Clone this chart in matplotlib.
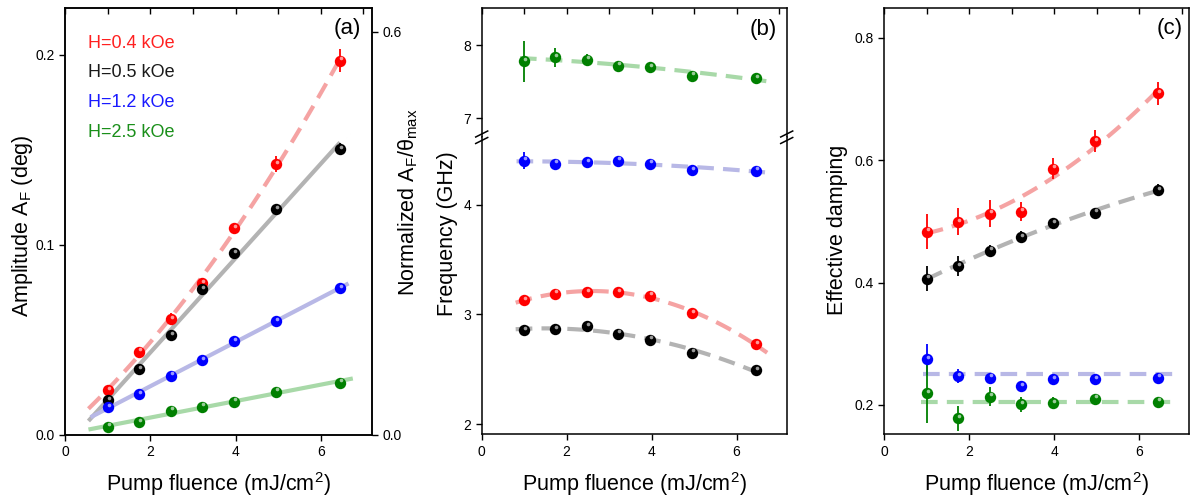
import numpy as np
import matplotlib
matplotlib.use('Agg')
import matplotlib.pyplot as plt
from matplotlib import transforms
from matplotlib.lines import Line2D
from matplotlib.colors import to_rgb
from matplotlib.ticker import MultipleLocator

plt.rcParams['font.family'] = ['Liberation Sans', 'DejaVu Sans']
plt.rcParams['mathtext.fontset'] = 'custom'
plt.rcParams['mathtext.rm'] = 'Liberation Sans'
plt.rcParams['mathtext.it'] = 'Liberation Sans:italic'
plt.rcParams['mathtext.bf'] = 'Liberation Sans:bold'

# pump fluence (mJ/cm2), same for every series
fluence = [1.0, 1.73, 2.48, 3.22, 3.97, 4.95, 6.45]
fields = ['H=0.4 kOe', 'H=0.5 kOe', 'H=1.2 kOe', 'H=2.5 kOe']

# (a) Faraday amplitude (deg)
amp_04 = [0.0237, 0.0438, 0.061, 0.0798, 0.1088, 0.1426, 0.197]
amp_04_err = [0.002, 0.002, 0.003, 0.002, 0.003, 0.004, 0.006]
amp_05 = [0.0184, 0.0347, 0.0526, 0.0767, 0.0956, 0.1188, 0.1504]
amp_05_err = [0.002, 0.001, 0.001, 0.002, 0.002, 0.002, 0.003]
amp_12 = [0.0146, 0.0216, 0.0312, 0.0395, 0.0495, 0.060, 0.0772]
amp_12_err = [0.001, 0.001, 0.001, 0.001, 0.001, 0.001, 0.001]
amp_25 = [0.0044, 0.0067, 0.0128, 0.0149, 0.0175, 0.0228, 0.0275]
amp_25_err = [0.001, 0.001, 0.001, 0.001, 0.001, 0.001, 0.001]

# (b) precession frequency (GHz)
freq_04 = [3.13, 3.19, 3.205, 3.205, 3.17, 3.01, 2.727]
freq_04_err = [0.01, 0.01, 0.01, 0.01, 0.01, 0.01, 0.01]
freq_05 = [2.857, 2.866, 2.893, 2.826, 2.771, 2.65, 2.49]
freq_05_err = [0.01, 0.01, 0.01, 0.01, 0.01, 0.01, 0.01]
freq_12 = [4.405, 4.375, 4.39, 4.405, 4.375, 4.32, 4.313]
freq_12_err = [0.08, 0.03, 0.02, 0.02, 0.02, 0.01, 0.01]
freq_25 = [7.78, 7.83, 7.80, 7.72, 7.70, 7.58, 7.55]
freq_25_err = [0.28, 0.13, 0.08, 0.04, 0.03, 0.02, 0.02]

# (c) effective damping
damp_04 = [0.483, 0.499, 0.5125, 0.516, 0.586, 0.631, 0.709]
damp_04_err = [0.029, 0.022, 0.022, 0.016, 0.017, 0.018, 0.019]
damp_05 = [0.4065, 0.427, 0.452, 0.474, 0.497, 0.514, 0.551]
damp_05_err = [0.02, 0.017, 0.01, 0.01, 0.008, 0.006, 0.01]
damp_12 = [0.2746, 0.2473, 0.2446, 0.231, 0.242, 0.242, 0.2446]
damp_12_err = [0.025, 0.012, 0.008, 0.004, 0.004, 0.004, 0.004]
damp_25 = [0.219, 0.178, 0.2136, 0.201, 0.203, 0.21, 0.205]
damp_25_err = [0.048, 0.02, 0.015, 0.012, 0.01, 0.006, 0.005]
damp_level_12 = 0.2506
damp_level_25 = 0.2044

colors = ['#ff0000', '#000000', '#0000ff', '#008000']
fit_colors = ['#f5a3a3', '#b3b3b3', '#b8b8e6', '#a8d9a8']
text_colors = ['#ff2020', '#1a1a1a', '#1a1aff', '#1a8f1a']

W, H = 1193, 500
fig = plt.figure(figsize=(W / 100, H / 100), dpi=100)


def px_axes(left, top, right, bottom):
    return fig.add_axes([left / W, 1 - bottom / H, (right - left) / W, (bottom - top) / H])


def balls(ax, y, yerr, color):
    ax.errorbar(fluence, y, yerr=yerr, fmt='o', color=color, ms=8.2, mew=0,
                elinewidth=1.3, capsize=3, capthick=1.3, zorder=3)
    light = tuple(0.4 * c + 0.6 for c in to_rgb(color))
    tr = transforms.offset_copy(ax.transData, fig=fig, x=0.7, y=1.7, units='points')
    ax.plot(fluence, y, 'o', ms=2.6, mew=0, color=light, transform=tr, zorder=4)


def fit(ax, y, deg, x0, x1, color, dashed=True):
    p = np.polyfit(fluence, y, deg)
    xx = np.linspace(x0, x1, 100)
    ln, = ax.plot(xx, np.polyval(p, xx), color=color, lw=3, zorder=1,
                  solid_capstyle='butt')
    if dashed:
        ln.set_dashes((4, 2.2))


def style(ax, top_ticks=True):
    ax.tick_params(axis='both', which='major', direction='out', length=4, width=1,
                   labelsize=10, top=False, right=False)
    ax.tick_params(axis='y', which='minor', left=False, right=False)
    for s in ax.spines.values():
        s.set_linewidth(1.1)
    # top axis: inward ticks at every integer, done with the minor ticks
    ax.xaxis.set_minor_locator(MultipleLocator(1))
    ax.xaxis.remove_overlapping_locs = False
    ax.tick_params(axis='x', which='minor', direction='in', length=4, width=1,
                   bottom=False, top=top_ticks, labeltop=False, labelbottom=False)


# ---------- (a) ----------
axa = px_axes(65, 8, 372, 435)
fit(axa, amp_04, 2, 0.55, 6.45, fit_colors[0], dashed=True)
fit(axa, amp_05, 1, 0.55, 6.45, fit_colors[1], dashed=False)
fit(axa, amp_12, 1, 0.6, 6.65, fit_colors[2], dashed=False)
fit(axa, amp_25, 1, 0.55, 6.75, fit_colors[3], dashed=False)
for y, e, c in zip([amp_04, amp_05, amp_12, amp_25],
                   [amp_04_err, amp_05_err, amp_12_err, amp_25_err], colors):
    balls(axa, y, e, c)
axa.set_xlim(0, 7.2)
axa.set_ylim(0, 0.2247)
axa.set_xticks([0, 2, 4, 6])
axa.set_yticks([0.0, 0.1, 0.2])
axa.set_yticklabels(['0.0', '0.1', '0.2'])
style(axa)
axa.set_xlabel('Pump fluence (mJ/cm$^2$)', fontsize=15.5, labelpad=8)
axa.set_ylabel('Amplitude A$_\\mathrm{F}$ (deg)', fontsize=15.5)
axa.yaxis.set_label_coords(-0.097, 0.49)
for i, (lab, tc) in enumerate(zip(fields, text_colors)):
    axa.text(0.075, 0.918 - i * 0.07, lab, color=tc, fontsize=13,
             transform=axa.transAxes, va='center', ha='left')
axa.text(0.918, 0.951, '(a)', fontsize=16, transform=axa.transAxes, ha='center', va='center')

axa2 = axa.twinx()
axa2.set_ylim(0, 0.2247 * 2.826)
axa2.set_yticks([0.0, 0.6])
axa2.set_yticklabels(['0.0', '0.6'])
axa2.tick_params(axis='y', direction='out', length=4, width=1, labelsize=10)
for s in axa2.spines.values():
    s.set_linewidth(1.1)
axa2.set_ylabel('Normalized A$_\\mathrm{F}$/θ$_\\mathrm{max}$', fontsize=15.5)
axa2.yaxis.set_label_coords(1.08, 0.545)

# ---------- (b) broken axis ----------
brk = 137
axb_top = px_axes(481.7, 8, 786.7, brk)
axb = px_axes(481.7, brk, 786.7, 434.3)

fit(axb_top, freq_25, 2, 0.9, 6.7, fit_colors[3])
balls(axb_top, freq_25, freq_25_err, colors[3])
fit(axb, freq_12, 2, 0.82, 6.67, fit_colors[2])
fit(axb, freq_04, 2, 0.8, 6.72, fit_colors[0])
fit(axb, freq_05, 2, 0.8, 6.72, fit_colors[1])
balls(axb, freq_12, freq_12_err, colors[2])
balls(axb, freq_04, freq_04_err, colors[0])
balls(axb, freq_05, freq_05_err, colors[1])

for ax in (axb_top, axb):
    ax.set_xlim(0, 7.18)
axb_top.set_ylim(6.745, 8.505)
axb.set_ylim(1.906, 4.62)
axb_top.set_yticks([7, 8])
axb.set_yticks([2, 3, 4])
axb.set_xticks([0, 2, 4, 6])
style(axb_top)
style(axb, top_ticks=False)
axb_top.spines['bottom'].set_visible(False)
axb_top.tick_params(axis='x', which='major', bottom=False, labelbottom=False)
axb.spines['top'].set_visible(False)
axb.set_xlabel('Pump fluence (mJ/cm$^2$)', fontsize=15.5, labelpad=8)
fig.text(447 / W, 1 - 234 / H, 'Frequency (GHz)', fontsize=15.5, rotation=90,
         ha='center', va='center')
axb_top.text(0.922, 0.83, '(b)', fontsize=16, transform=axb_top.transAxes,
             ha='center', va='center')

# break marks on both spines
for xs in (481.7, 786.7):
    for yc in (brk - 3, brk + 3.5):
        fig.add_artist(Line2D([(xs - 6) / W, (xs + 6) / W],
                              [1 - (yc + 3) / H, 1 - (yc - 3) / H],
                              color='black', lw=1.1))

# ---------- (c) ----------
axc = px_axes(884.3, 8, 1189.3, 434.3)
fit(axc, damp_04, 2, 1.0, 6.45, fit_colors[0])
fit(axc, damp_05, 2, 1.0, 6.4, fit_colors[1])
hl12, = axc.plot([0.92, 6.89], [damp_level_12, damp_level_12], color=fit_colors[2], lw=3, zorder=1)
hl25, = axc.plot([0.87, 6.87], [damp_level_25, damp_level_25], color=fit_colors[3], lw=3, zorder=1)
hl12.set_dashes((4, 2.2))
hl25.set_dashes((4, 2.2))
for y, e, c in zip([damp_04, damp_05, damp_12, damp_25],
                   [damp_04_err, damp_05_err, damp_12_err, damp_25_err], colors):
    balls(axc, y, e, c)
axc.set_xlim(0, 7.18)
axc.set_ylim(0.152, 0.8485)
axc.set_xticks([0, 2, 4, 6])
axc.set_yticks([0.2, 0.4, 0.6, 0.8])
axc.set_yticklabels(['0.2', '0.4', '0.6', '0.8'])
style(axc)
axc.set_xlabel('Pump fluence (mJ/cm$^2$)', fontsize=15.5, labelpad=8)
axc.set_ylabel('Effective damping', fontsize=15.5)
axc.yaxis.set_label_coords(-0.118, 0.48)
axc.text(0.937, 0.951, '(c)', fontsize=16, transform=axc.transAxes, ha='center', va='center')

fig.savefig('out.png', dpi=100)
